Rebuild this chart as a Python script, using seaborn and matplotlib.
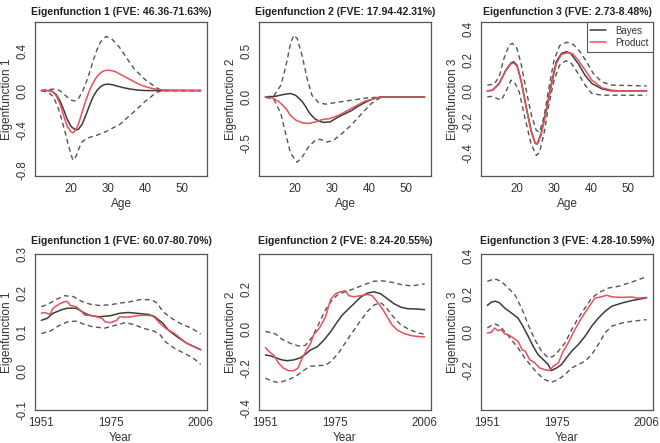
import matplotlib
matplotlib.use("Agg")
import matplotlib.pyplot as plt
from matplotlib.lines import Line2D
import seaborn as sns
import numpy as np

# ---- top row: eigenfunctions over age ----
a1_bayes_x = [12, 14, 15, 16, 17, 18, 19, 20, 21, 21.5, 22, 23, 24, 25, 26, 27, 28, 29, 30, 31, 32, 34, 36, 38, 40, 45, 55]
a1_bayes_y = [0, 0, -0.01, -0.04, -0.1, -0.19, -0.29, -0.36, -0.39, -0.395, -0.39, -0.34, -0.25, -0.15, -0.06, 0.0, 0.04,
              0.06, 0.065, 0.06, 0.05, 0.03, 0.015, 0.005, 0, 0, 0]
a1_prod_x = [12, 14, 15, 16, 17, 18, 19, 20, 20.5, 21, 22, 23, 24, 25, 26, 27, 28, 29, 30, 31, 32, 34, 36, 38, 40, 42, 45, 55]
a1_prod_y = [0, 0, -0.01, -0.05, -0.13, -0.25, -0.36, -0.415, -0.425, -0.41, -0.34, -0.22, -0.1, 0.0, 0.08, 0.14, 0.18,
             0.2, 0.205, 0.2, 0.19, 0.15, 0.11, 0.07, 0.04, 0.02, 0.005, 0]
a1_up_x = [12, 14, 15.7, 17, 18.5, 20, 21, 22, 23, 24, 25, 26, 27, 28, 29.5, 31, 33, 35, 37, 40, 43, 44.5, 55]
a1_up_y = [0, 0.01, 0.015, 0.0, -0.05, -0.095, -0.105, -0.08, -0.02, 0.07, 0.18, 0.3, 0.41, 0.49, 0.545, 0.52, 0.44,
           0.33, 0.22, 0.11, 0.03, 0, 0]
a1_lo_x = [12, 14, 15.2, 16.5, 17.5, 18.5, 19.3, 20.5, 21.4, 22.2, 22.9, 24.2, 27, 29.6, 33.2, 36.8, 40, 43, 44.5, 55]
a1_lo_y = [0, -0.02, -0.06, -0.17, -0.29, -0.43, -0.55, -0.7, -0.66, -0.58, -0.52, -0.48, -0.45, -0.41, -0.34, -0.22,
           -0.11, -0.02, 0, 0]

a2_bayes_x = [12, 14.8, 17, 18.8, 20.2, 21, 22, 23, 23.7, 24.5, 25.5, 26.5, 27.7, 29.5, 31.7, 33.5, 35.3, 37, 38.8, 40.6, 42.8, 55]
a2_bayes_y = [0, 0.01, 0.03, 0.04, 0.02, -0.01, -0.05, -0.11, -0.16, -0.2, -0.24, -0.26, -0.275, -0.27, -0.215, -0.18,
              -0.145, -0.1, -0.06, -0.025, 0, 0]
a2_prod_x = [12, 14, 15.7, 17.5, 18.8, 20.2, 22, 23.7, 25.5, 27.3, 29.5, 31.7, 35.3, 38.8, 42.8, 55]
a2_prod_y = [0, -0.01, -0.05, -0.12, -0.2, -0.25, -0.28, -0.287, -0.27, -0.245, -0.233, -0.2, -0.12, -0.045, 0, 0]
a2_up_x = [12, 14.4, 16.2, 17.5, 18.8, 19.7, 20.6, 22, 23.3, 24.6, 26.4, 28.2, 30.8, 35.3, 39.7, 43, 55]
a2_up_y = [0, 0.02, 0.13, 0.33, 0.585, 0.676, 0.64, 0.44, 0.2, 0.02, -0.06, -0.076, -0.06, -0.033, -0.007, 0, 0]
a2_lo_x = [12, 14.4, 16.2, 17.5, 18.8, 20.6, 22, 23.7, 25.5, 26.8, 28.6, 30.4, 32.6, 35.3, 38, 40.6, 42.8, 44, 55]
a2_lo_y = [0, -0.03, -0.18, -0.4, -0.61, -0.71, -0.65, -0.54, -0.47, -0.46, -0.49, -0.47, -0.4, -0.3, -0.18, -0.07,
           -0.01, 0, 0]

a3_bayes_x = [12, 13.4, 15.2, 17, 18.4, 19.1, 20, 21.1, 22.5, 23.8, 24.9, 25.5, 26.5, 27.9, 29.3, 30.6, 32, 33.4, 34.5,
              36.5, 38.4, 40.2, 42.9, 45.6, 55]
a3_bayes_y = [0, 0.004, 0.048, 0.134, 0.18, 0.188, 0.166, 0.07, -0.104, -0.255, -0.337, -0.342, -0.277, -0.125, 0.048,
              0.188, 0.242, 0.253, 0.242, 0.177, 0.1, 0.048, 0.013, 0, 0]
a3_prod_x = [12, 13.4, 15.2, 17, 18.4, 19.1, 20, 21.1, 22.5, 23.8, 24.9, 25.5, 26.5, 27.9, 29.3, 30.6, 32, 33.7, 35,
             36.5, 38.4, 40.2, 42.9, 45.6, 48, 55]
a3_prod_y = [0, 0.004, 0.045, 0.13, 0.175, 0.18, 0.16, 0.065, -0.11, -0.26, -0.34, -0.345, -0.285, -0.135, 0.035,
             0.175, 0.235, 0.247, 0.24, 0.2, 0.134, 0.07, 0.02, 0.004, 0, 0]
a3_up_x = [12, 13.8, 15.2, 16.5, 17.9, 18.8, 20, 21.1, 22.5, 23.8, 25.2, 26.1, 27.3, 28.5, 30, 31.5, 33.4, 35.2, 37,
           38.8, 40.6, 42.9, 45.6, 55]
a3_up_y = [0.037, 0.043, 0.09, 0.21, 0.296, 0.307, 0.275, 0.177, 0.004, -0.147, -0.255, -0.266, -0.169, 0.004, 0.199,
           0.292, 0.314, 0.3, 0.253, 0.188, 0.112, 0.058, 0.037, 0.032]
a3_lo_x = [12, 13.4, 14.7, 15.8, 17, 18.4, 19.3, 20.6, 22, 23.8, 25.2, 26.1, 27.3, 28.5, 30, 31.5, 33.2, 34.7, 36.5,
           38.4, 40.2, 42.9, 55]
a3_lo_y = [-0.039, -0.035, -0.05, -0.06, -0.006, 0.069, 0.058, -0.006, -0.158, -0.342, -0.417, -0.396, -0.277, -0.104,
           0.069, 0.166, 0.195, 0.177, 0.112, 0.037, -0.017, -0.028, -0.028]

# ---- bottom row: eigenfunctions over calendar year ----
y1_bayes_x = [1951, 1953, 1955, 1958, 1960, 1963, 1966, 1968, 1971, 1975, 1978, 1981, 1984, 1988, 1990, 1993, 1995,
              1998, 2001, 2006]
y1_bayes_y = [0.13, 0.135, 0.148, 0.157, 0.161, 0.161, 0.148, 0.142, 0.139, 0.142, 0.148, 0.15, 0.148, 0.145, 0.14,
              0.122, 0.104, 0.087, 0.072, 0.055]
y1_prod_x = [1951, 1952, 1954, 1955, 1957, 1959, 1960, 1961, 1963, 1965, 1966, 1968, 1970, 1972, 1973, 1975, 1977,
             1978, 1980, 1982, 1984, 1986, 1989, 1990, 1992, 1994, 1997, 1999, 2001, 2004, 2006]
y1_prod_y = [0.148, 0.15, 0.145, 0.161, 0.171, 0.178, 0.178, 0.168, 0.165, 0.152, 0.143, 0.143, 0.139, 0.135, 0.126,
             0.124, 0.13, 0.139, 0.138, 0.139, 0.142, 0.143, 0.142, 0.138, 0.122, 0.109, 0.096, 0.084, 0.072, 0.061,
             0.054]
y1_up_x = [1951, 1953, 1956, 1959, 1962, 1965, 1968, 1971, 1975, 1978, 1982, 1985, 1989, 1991, 1993, 1996, 1999, 2003, 2006]
y1_up_y = [0.165, 0.17, 0.183, 0.193, 0.191, 0.178, 0.171, 0.168, 0.17, 0.174, 0.178, 0.183, 0.183, 0.174, 0.152,
           0.135, 0.122, 0.109, 0.095]
y1_lo_x = [1951, 1954, 1957, 1960, 1963, 1966, 1969, 1973, 1976, 1980, 1983, 1986, 1990, 1992, 1994, 1997, 2001, 2004, 2006]
y1_lo_y = [0.096, 0.102, 0.116, 0.126, 0.128, 0.119, 0.113, 0.11, 0.116, 0.124, 0.119, 0.11, 0.102, 0.093, 0.074,
           0.058, 0.043, 0.03, 0.017]

y2_bayes_x = [1951, 1952.7, 1954.5, 1956.8, 1958.5, 1960.8, 1963.1, 1964.8, 1966.6, 1968.9, 1971.2, 1973.5, 1975.2,
              1977.5, 1979.8, 1981.6, 1983.9, 1986.2, 1988.5, 1990.8, 1993.1, 1995.4, 1997.7, 2000, 2003.5, 2006]
y2_bayes_y = [-0.133, -0.137, -0.147, -0.158, -0.162, -0.158, -0.147, -0.13, -0.108, -0.092, -0.058, -0.017, 0.02,
              0.067, 0.1, 0.125, 0.158, 0.178, 0.185, 0.175, 0.15, 0.125, 0.108, 0.1, 0.098, 0.095]
y2_prod_x = [1951, 1952.2, 1953.9, 1955.6, 1957.3, 1959.1, 1960.8, 1962.2, 1963.7, 1965.2, 1966.6, 1967.7, 1968.9,
             1970, 1971.8, 1973.5, 1975.2, 1977, 1978.7, 1979.8, 1981.6, 1983.9, 1986.2, 1987.9, 1989.6, 1991.4,
             1993.1, 1994.8, 1996.6, 1998.9, 2001.2, 2003.5, 2006]
y2_prod_y = [-0.095, -0.115, -0.135, -0.175, -0.2, -0.213, -0.212, -0.2, -0.15, -0.108, -0.075, -0.03, -0.012, 0.01,
             0.06, 0.145, 0.175, 0.185, 0.19, 0.165, 0.16, 0.165, 0.172, 0.165, 0.135, 0.1, 0.058, 0.017, -0.008,
             -0.025, -0.035, -0.04, -0.042]
y2_up_x = [1951, 1952.7, 1954.5, 1956.8, 1959.7, 1962.5, 1964.8, 1967.1, 1969.5, 1971.8, 1974.1, 1976.4, 1978.7,
           1981.6, 1985, 1988.5, 1991.4, 1994.8, 1998.3, 2001.2, 2004.1, 2006]
y2_up_y = [-0.015, -0.02, -0.027, -0.055, -0.075, -0.088, -0.085, -0.045, 0.025, 0.095, 0.145, 0.175, 0.185, 0.2,
           0.22, 0.238, 0.24, 0.232, 0.22, 0.215, 0.22, 0.225]
y2_lo_x = [1951, 1953.3, 1955.6, 1958.5, 1961.4, 1964.3, 1966.6, 1968.9, 1971.8, 1974.1, 1976.4, 1978.7, 1981,
           1983.9, 1986.2, 1988.5, 1990.8, 1992.5, 1994.8, 1997.7, 2000.6, 2003.5, 2006]
y2_lo_y = [-0.25, -0.265, -0.272, -0.26, -0.242, -0.21, -0.19, -0.187, -0.185, -0.16, -0.12, -0.07, -0.02, 0.04,
           0.085, 0.118, 0.13, 0.11, 0.065, 0.02, -0.005, -0.02, -0.03]

y3_bayes_x = [1951, 1952.4, 1953.8, 1955.3, 1957, 1959.3, 1961.6, 1963.3, 1965.1, 1966.8, 1968.5, 1970.3, 1972, 1973.1,
              1974.9, 1976.6, 1978.3, 1980.1, 1982.4, 1984.7, 1987, 1989.3, 1991.6, 1993.9, 1997.4, 2000.8, 2006]
y3_bayes_y = [0.14, 0.157, 0.162, 0.152, 0.126, 0.1, 0.073, 0.03, -0.023, -0.075, -0.119, -0.145, -0.171, -0.203,
              -0.189, -0.171, -0.136, -0.101, -0.066, -0.023, 0.03, 0.073, 0.108, 0.135, 0.152, 0.165, 0.18]
y3_prod_x = [1951, 1952.4, 1953.5, 1954.7, 1955.8, 1957, 1958.2, 1959.9, 1961.6, 1963, 1964.1, 1965.6, 1967.4, 1969.1,
             1970.8, 1972.6, 1973.7, 1975.5, 1977.2, 1978.9, 1981.2, 1983.5, 1985.8, 1988.1, 1990.4, 1992.2, 1993.9,
             1997.4, 2000.8, 2003.1, 2006]
y3_prod_y = [-0.005, -0.002, 0.021, 0.007, 0.012, -0.01, -0.014, -0.031, -0.049, -0.093, -0.101, -0.145, -0.163,
             -0.189, -0.198, -0.203, -0.18, -0.163, -0.101, -0.058, 0.012, 0.073, 0.126, 0.178, 0.185, 0.193, 0.185,
             0.182, 0.184, 0.178, 0.182]
y3_up_x = [1951, 1953.5, 1955.8, 1958.2, 1960.5, 1962.8, 1965.1, 1967.4, 1969.7, 1972, 1973.7, 1975.5, 1977.8, 1980.1,
           1982.4, 1984.7, 1987, 1989.3, 1992.8, 1996.2, 1999.7, 2003.1, 2006]
y3_up_y = [0.266, 0.28, 0.266, 0.231, 0.196, 0.126, 0.038, -0.04, -0.101, -0.136, -0.128, -0.101, -0.058, 0.012,
           0.073, 0.126, 0.178, 0.205, 0.231, 0.24, 0.257, 0.274, 0.292]
y3_lo_x = [1951, 1952.4, 1953.8, 1955.3, 1957, 1959.3, 1961.6, 1963.9, 1966.2, 1968.5, 1970.8, 1973.1, 1975.5, 1977.8,
           1980.1, 1982.4, 1984.7, 1987, 1989.3, 1991.6, 1993.9, 1997.4, 2000.8, 2006]
y3_lo_y = [0.021, 0.035, 0.042, 0.03, 0.003, -0.04, -0.084, -0.136, -0.18, -0.22, -0.25, -0.264, -0.25, -0.224,
           -0.189, -0.171, -0.154, -0.119, -0.066, -0.005, 0.03, 0.047, 0.056, 0.065]

TITLES = ["Eigenfunction 1 (FVE: 46.36-71.63%)", "Eigenfunction 2 (FVE: 17.94-42.31%)",
          "Eigenfunction 3 (FVE: 2.73-8.48%)", "Eigenfunction 1 (FVE: 60.07-80.70%)",
          "Eigenfunction 2 (FVE: 8.24-20.55%)", "Eigenfunction 3 (FVE: 4.28-10.59%)"]
YLABELS = ["Eigenfunction 1", "Eigenfunction 2", "Eigenfunction 3"]

BAYES_COL = "#3c3c3c"
PROD_COL = "#e8505a"
BAND_COL = "#555555"
TEXT_COL = "#333333"
FRAME_COL = "#555555"

sns.set_style("white")
plt.rcParams['font.family'] = ['Liberation Sans', 'DejaVu Sans']
plt.rcParams['text.color'] = TEXT_COL
plt.rcParams['axes.labelcolor'] = TEXT_COL

W, H = 660, 443


def box(left, top, right, bottom):
    return [left / W, (H - bottom) / H, (right - left) / W, (bottom - top) / H]


def draw(ax, bx, by, px, py, ux, uy, lx, ly):
    sns.lineplot(x=ux, y=uy, ax=ax, color=BAND_COL, lw=1.0, linestyle=(0, (3.5, 2.5)), estimator=None, sort=False)
    sns.lineplot(x=lx, y=ly, ax=ax, color=BAND_COL, lw=1.0, linestyle=(0, (3.5, 2.5)), estimator=None, sort=False)
    sns.lineplot(x=bx, y=by, ax=ax, color=BAYES_COL, lw=1.1, estimator=None, sort=False)
    sns.lineplot(x=px, y=py, ax=ax, color=PROD_COL, lw=1.1, estimator=None, sort=False)


def style(ax, title, xlabel, ylabel, yticks, ylabels, xticks, ylim, xlim, pad):
    ax.set_xlim(*xlim)
    ax.set_ylim(*ylim)
    ax.set_xticks(xticks)
    ax.set_xticklabels([str(t) for t in xticks])
    ax.set_yticks(yticks)
    ax.set_yticklabels(ylabels, rotation=90, va="center")
    ax.tick_params(direction="out", length=3.5, width=0.8, color=FRAME_COL, labelsize=8.3,
                   labelcolor=TEXT_COL, pad=1.5)
    for s in ax.spines.values():
        s.set_visible(True)
        s.set_color(FRAME_COL)
        s.set_linewidth(0.9)
    ax.set_title(title, fontsize=7.6, fontweight="bold", pad=pad, color="#222222")
    ax.set_xlabel(xlabel, fontsize=8.5, labelpad=2)
    ax.set_ylabel(ylabel, fontsize=8.5, labelpad=2)


fig = plt.figure(figsize=(6.6, 4.43), dpi=100)
fig.patch.set_facecolor("white")

lefts = [35, 259, 481]
top_axes = [fig.add_axes(box(l, 22, l + 172, 176)) for l in lefts]
bot_axes = [fig.add_axes(box(l, 254, l + 172, 410)) for l in lefts]

age_lim = (10.3, 56.7)
year_lim = (1948.8, 2008.2)

draw(top_axes[0], a1_bayes_x, a1_bayes_y, a1_prod_x, a1_prod_y, a1_up_x, a1_up_y, a1_lo_x, a1_lo_y)
draw(top_axes[1], a2_bayes_x, a2_bayes_y, a2_prod_x, a2_prod_y, a2_up_x, a2_up_y, a2_lo_x, a2_lo_y)
draw(top_axes[2], a3_bayes_x, a3_bayes_y, a3_prod_x, a3_prod_y, a3_up_x, a3_up_y, a3_lo_x, a3_lo_y)
draw(bot_axes[0], y1_bayes_x, y1_bayes_y, y1_prod_x, y1_prod_y, y1_up_x, y1_up_y, y1_lo_x, y1_lo_y)
draw(bot_axes[1], y2_bayes_x, y2_bayes_y, y2_prod_x, y2_prod_y, y2_up_x, y2_up_y, y2_lo_x, y2_lo_y)
draw(bot_axes[2], y3_bayes_x, y3_bayes_y, y3_prod_x, y3_prod_y, y3_up_x, y3_up_y, y3_lo_x, y3_lo_y)

age_ticks = [20, 30, 40, 50]
year_ticks = [1951, 1975, 2006]

style(top_axes[0], TITLES[0], "Age", YLABELS[0], [-0.8, -0.6, -0.4, -0.2, 0.0, 0.2, 0.4, 0.6],
      ["-0.8", "", "-0.4", "", "0.0", "", "0.4", ""], age_ticks, (-0.86, 0.69), age_lim, 5)
style(top_axes[1], TITLES[1], "Age", YLABELS[1], [-0.5, 0.0, 0.5], ["-0.5", "0.0", "0.5"],
      age_ticks, (-0.86, 0.82), age_lim, 5)
style(top_axes[2], TITLES[2], "Age", YLABELS[2], [-0.4, -0.2, 0.0, 0.2, 0.4],
      ["-0.4", "-0.2", "0.0", "0.2", "0.4"], age_ticks, (-0.55, 0.445), age_lim, 5)
style(bot_axes[0], TITLES[3], "Year", YLABELS[0], [-0.1, 0.0, 0.1, 0.2, 0.3],
      ["-0.1", "0.0", "0.1", "0.2", "0.3"], year_ticks, (-0.1, 0.3), year_lim, 7)
style(bot_axes[1], TITLES[4], "Year", YLABELS[1], [-0.4, -0.3, -0.2, -0.1, 0.0, 0.1, 0.2, 0.3],
      ["-0.4", "", "-0.2", "", "0.0", "", "0.2", ""], year_ticks, (-0.41, 0.375), year_lim, 7)
style(bot_axes[2], TITLES[5], "Year", YLABELS[2], [-0.4, -0.2, 0.0, 0.2, 0.4],
      ["", "-0.2", "0.0", "0.2", "0.4"], year_ticks, (-0.41, 0.41), year_lim, 7)

handles = [Line2D([], [], color=BAYES_COL, lw=1.1), Line2D([], [], color=PROD_COL, lw=1.1)]
leg = top_axes[2].legend(handles, ["Bayes", "Product"], loc="upper right", borderaxespad=0, fancybox=False,
                         framealpha=1, edgecolor=FRAME_COL, fontsize=7.0, handlelength=1.6,
                         handletextpad=1.0, borderpad=0.4, labelspacing=0.2)
leg.get_frame().set_linewidth(0.8)

fig.savefig("out.png", dpi=100)
